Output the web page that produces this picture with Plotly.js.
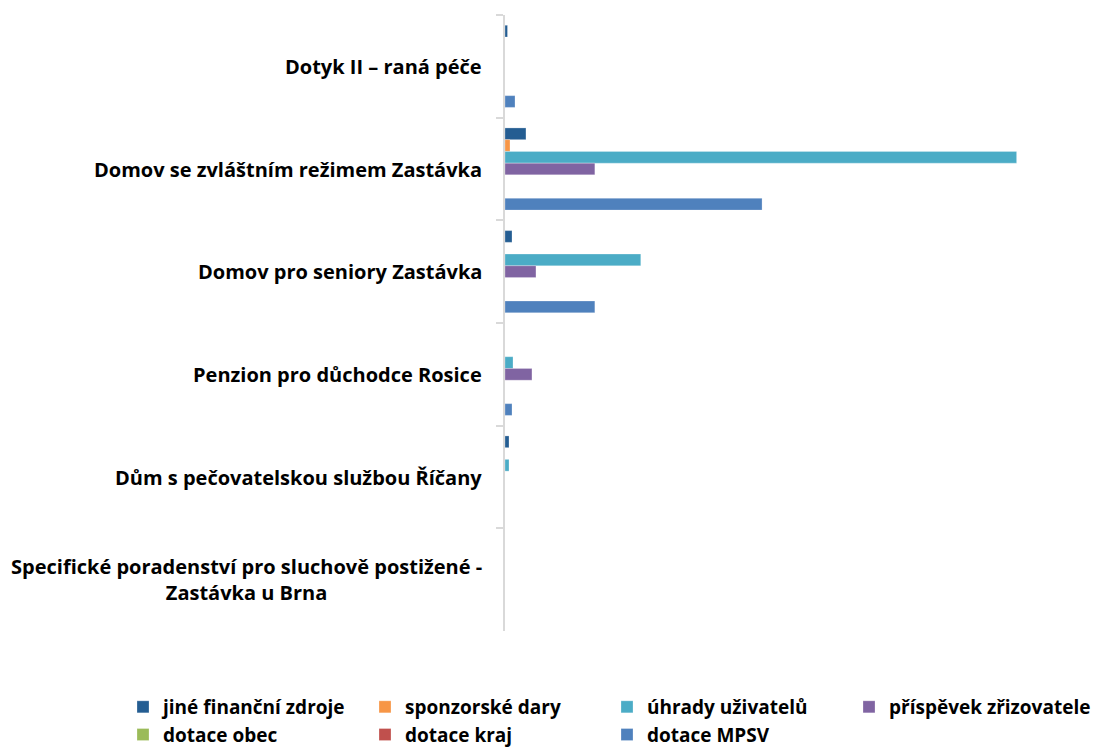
<!DOCTYPE html>
<html>
<head>
<meta charset="utf-8">
<script src="https://cdn.plot.ly/plotly-3.0.1.min.js"></script>
<style>html,body{margin:0;padding:0;background:#fff;}#chart{width:1099px;height:747px;}</style>
</head>
<body>
<div id="chart"></div>
<script>
const categories = [
  "Dotyk II – raná péče",
  "Domov se zvláštním režimem Zastávka",
  "Domov pro seniory Zastávka",
  "Penzion pro důchodce Rosice",
  "Dům s pečovatelskou službou Říčany",
  "Specifické poradenství pro sluchově postižené -<br>Zastávka u Brna"
];
const seriesNames = ["jiné finanční zdroje","sponzorské dary","úhrady uživatelů","příspěvek zřizovatele","dotace obec","dotace kraj","dotace MPSV"];
const seriesColors = ["#245D92","#F79646","#4BACC6","#8064A2","#9BBB59","#C0504D","#4F81BD"];
const jineFinancniZdroje   = [100, 840, 280, 0, 160, 0];
const sponzorskeDary       = [0, 200, 0, 0, 0, 0];
const uhradyUzivatelu      = [0, 20500, 5440, 320, 160, 0];
const prispevekZrizovatele = [0, 3600, 1240, 1080, 0, 0];
const dotaceObec           = [0, 0, 0, 0, 0, 0];
const dotaceKraj           = [0, 0, 0, 0, 0, 0];
const dotaceMPSV           = [400, 10300, 3600, 280, 0, 0];
const seriesValues = [jineFinancniZdroje, sponzorskeDary, uhradyUzivatelu, prispevekZrizovatele, dotaceObec, dotaceKraj, dotaceMPSV];

const FONT = '"Open Sans", "DejaVu Sans", sans-serif';

const traces = seriesNames.map((n, i) => ({
  type: 'bar', orientation: 'h', name: n,
  x: seriesValues[i], y: categories,
  marker: {color: seriesColors[i], line: {color: 'rgba(255,255,255,0.5)', width: 0.5}},
  hoverinfo: 'x+name'
}));

const annotations = categories.map(c => ({
  xref: 'paper', yref: 'y', x: 0, y: c, xanchor: 'right', yanchor: 'middle',
  xshift: -21, text: c, showarrow: false, align: 'center',
  font: {family: FONT, size: 20, color: '#000', weight: 'bold'}
}));

const layout = {
  width: 1099, height: 747,
  margin: {l: 505, r: 20, t: 15, b: 116, autoexpand: false},
  paper_bgcolor: '#fff', plot_bgcolor: '#fff',
  barmode: 'group', bargap: 0.2, bargroupgap: 0,
  xaxis: {range: [0, 23000], showgrid: false, zeroline: false, showticklabels: false, showline: false, ticks: ''},
  yaxis: {autorange: 'reversed', showticklabels: false, showgrid: false, zeroline: false,
          showline: true, linecolor: '#d9d9d9', linewidth: 2,
          ticks: 'outside', tickson: 'boundaries', ticklen: 7, tickcolor: '#d9d9d9', tickwidth: 2},
  showlegend: true,
  legend: {orientation: 'h', x: -0.6655, xanchor: 'left', y: -0.0925, yanchor: 'top',
           entrywidth: 197, entrywidthmode: 'pixels', traceorder: 'normal',
           font: {family: FONT, size: 19, color: '#000', weight: 'bold'}},
  annotations: annotations
};
Plotly.newPlot('chart', traces, layout, {displayModeBar: false, staticPlot: true});
</script>
</body>
</html>
